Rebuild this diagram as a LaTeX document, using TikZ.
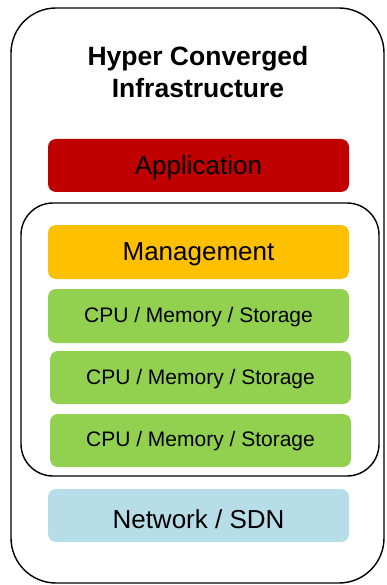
\documentclass[tikz,border=0pt]{standalone}
\usepackage{fontspec}
\setmainfont{Liberation Sans}
\definecolor{appred}{HTML}{C00000}
\definecolor{mgmt}{HTML}{FFC000}
\definecolor{cpug}{HTML}{92D050}
\definecolor{netb}{HTML}{B7DEE8}
\begin{document}
\begin{tikzpicture}[x=1pt,y=-1pt,
  layer/.style={rounded corners=8pt,inner sep=0pt},
  big/.style={font=\fontsize{26}{30}\selectfont},
  small/.style={font=\fontsize{21}{24}\selectfont}]
\useasboundingbox (0,0) rectangle (386,585);
\draw[line width=1.4pt,rounded corners=45pt] (11,8) rectangle (384,583);
\node[align=center,font=\bfseries\fontsize{26.5}{32}\selectfont] (title) at (198,72) {Hyper Converged\\Infrastructure};
\fill[appred,layer] (48,139) rectangle (349,192);
\node[big] (app) at (198.5,168) {Application};
\draw[line width=1.4pt,rounded corners=32pt] (21,203) rectangle (379,476);
\fill[mgmt,layer] (48,225) rectangle (349,279);
\node[big] (mg) at (198.5,254) {Management};
\fill[cpug,layer] (48,289) rectangle (349,343);
\node[small] (c1) at (198.5,317) {CPU / Memory / Storage};
\fill[cpug,layer] (50,351) rectangle (351,404);
\node[small] (c2) at (200.5,379) {CPU / Memory / Storage};
\fill[cpug,layer] (50,414) rectangle (351,467);
\node[small] (c3) at (200.5,441) {CPU / Memory / Storage};
\fill[netb,layer] (48,489) rectangle (349,542);
\node[big] (net) at (198.5,519) {Network / SDN};
\end{tikzpicture}
\end{document}
